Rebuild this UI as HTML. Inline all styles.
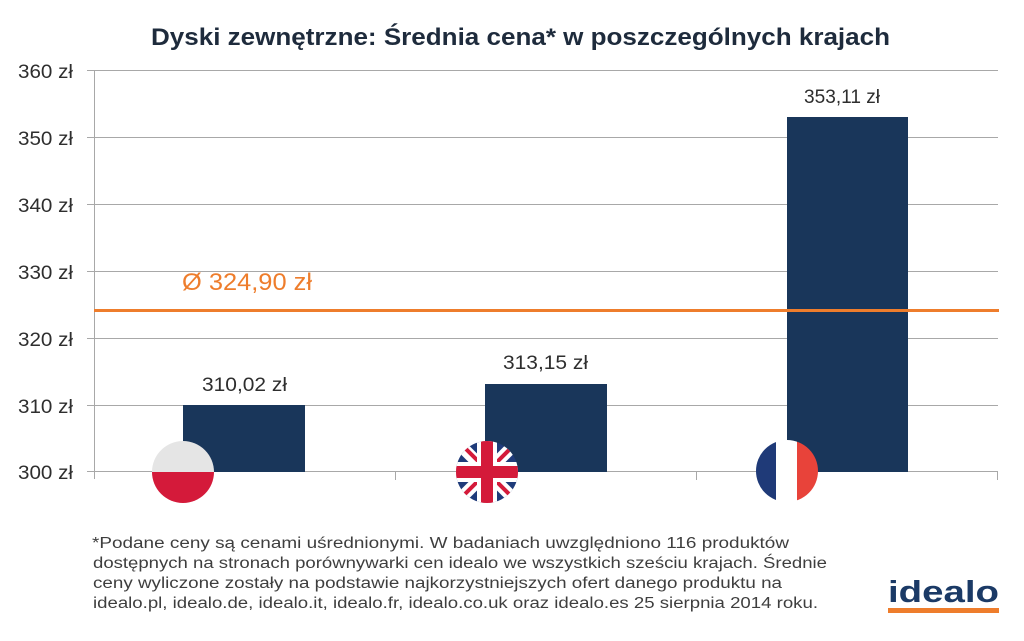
<!DOCTYPE html>
<html><head><meta charset="utf-8">
<style>
html,body{margin:0;padding:0;background:#fff;}
svg{display:block;}
text{font-family:"Liberation Sans",sans-serif;}
</style></head>
<body>
<svg width="1024" height="641" viewBox="0 0 1024 641" xmlns="http://www.w3.org/2000/svg">
<rect width="1024" height="641" fill="#fff"/>
<defs>
<clipPath id="cpl"><circle cx="183" cy="472" r="31"/></clipPath>
<clipPath id="cuk"><circle cx="487" cy="472" r="31"/></clipPath>
<clipPath id="cfr"><circle cx="787" cy="471" r="31"/></clipPath>
</defs>

<!-- title -->
<text x="151" y="45" font-size="24" font-weight="bold" fill="#1e2b3c" textLength="739" lengthAdjust="spacingAndGlyphs">Dyski zewnętrzne: Średnia cena* w poszczególnych krajach</text>

<!-- gridlines -->
<g stroke="#a8a8a8" stroke-width="1">
<line x1="87" y1="70.5" x2="998" y2="70.5"/>
<line x1="87" y1="137.5" x2="998" y2="137.5"/>
<line x1="87" y1="204.5" x2="998" y2="204.5"/>
<line x1="87" y1="271.5" x2="998" y2="271.5"/>
<line x1="87" y1="338.5" x2="998" y2="338.5"/>
<line x1="87" y1="405.5" x2="998" y2="405.5"/>
<line x1="87" y1="471.5" x2="998" y2="471.5"/>
<line x1="94.5" y1="70" x2="94.5" y2="479"/>
<line x1="395.5" y1="471" x2="395.5" y2="480"/>
<line x1="696.5" y1="471" x2="696.5" y2="480"/>
<line x1="997.5" y1="471" x2="997.5" y2="480"/>
</g>

<!-- y labels -->
<g font-size="19" fill="#2e2e2e">
<text x="18" y="78" textLength="55" lengthAdjust="spacingAndGlyphs">360 zł</text>
<text x="18" y="145" textLength="55" lengthAdjust="spacingAndGlyphs">350 zł</text>
<text x="18" y="212" textLength="55" lengthAdjust="spacingAndGlyphs">340 zł</text>
<text x="18" y="279" textLength="55" lengthAdjust="spacingAndGlyphs">330 zł</text>
<text x="18" y="346" textLength="55" lengthAdjust="spacingAndGlyphs">320 zł</text>
<text x="18" y="413" textLength="55" lengthAdjust="spacingAndGlyphs">310 zł</text>
<text x="18" y="479" textLength="55" lengthAdjust="spacingAndGlyphs">300 zł</text>
</g>

<!-- bars -->
<g fill="#19365a">
<rect x="183" y="405" width="122" height="67"/>
<rect x="485" y="384" width="122" height="88"/>
<rect x="787" y="117" width="121" height="355"/>
</g>

<!-- data labels -->
<g font-size="19" fill="#2e2e2e">
<text x="202" y="391" textLength="85" lengthAdjust="spacingAndGlyphs">310,02 zł</text>
<text x="503" y="369" textLength="85" lengthAdjust="spacingAndGlyphs">313,15 zł</text>
<text x="804" y="103" textLength="76" lengthAdjust="spacingAndGlyphs">353,11 zł</text>
</g>

<!-- average line -->
<line x1="94" y1="310.5" x2="999" y2="310.5" stroke="#ee7d2c" stroke-width="3"/>
<text x="182" y="290" font-size="24" fill="#ee7d2c" textLength="130" lengthAdjust="spacingAndGlyphs">Ø 324,90 zł</text>

<!-- Poland flag -->
<g clip-path="url(#cpl)">
<rect x="150" y="440" width="66" height="32" fill="#e5e5e5"/>
<rect x="150" y="472" width="66" height="33" fill="#d41a3a"/>
</g>

<!-- UK flag -->
<g clip-path="url(#cuk)">
<rect x="454" y="439" width="66" height="66" fill="#1f3b7a"/>
<line x1="454" y1="439" x2="520" y2="505" stroke="#fff" stroke-width="12"/>
<line x1="520" y1="439" x2="454" y2="505" stroke="#fff" stroke-width="12"/>
<line x1="454" y1="437" x2="487" y2="470" stroke="#d41a3a" stroke-width="4"/>
<line x1="489" y1="474" x2="522" y2="507" stroke="#d41a3a" stroke-width="4"/>
<line x1="522" y1="437" x2="489" y2="470" stroke="#d41a3a" stroke-width="4"/>
<line x1="485" y1="474" x2="452" y2="507" stroke="#d41a3a" stroke-width="4"/>
<rect x="477" y="439" width="20" height="66" fill="#fff"/>
<rect x="454" y="462" width="66" height="20" fill="#fff"/>
<rect x="481" y="439" width="12" height="66" fill="#d41a3a"/>
<rect x="454" y="466" width="66" height="12" fill="#d41a3a"/>
</g>

<!-- France flag -->
<g clip-path="url(#cfr)">
<rect x="755" y="439" width="21" height="64" fill="#1f3a78"/>
<rect x="776" y="439" width="21" height="64" fill="#ffffff"/>
<rect x="797" y="439" width="22" height="64" fill="#e8433a"/>
</g>

<!-- footnote -->
<g font-size="15.5" fill="#3e3e3e">
<text x="92" y="548" textLength="697" lengthAdjust="spacingAndGlyphs">*Podane ceny są cenami uśrednionymi. W badaniach uwzględniono 116 produktów</text>
<text x="93" y="568" textLength="734" lengthAdjust="spacingAndGlyphs">dostępnych na stronach porównywarki cen idealo we wszystkich sześciu krajach. Średnie</text>
<text x="93" y="588" textLength="689" lengthAdjust="spacingAndGlyphs">ceny wyliczone zostały na podstawie najkorzystniejszych ofert danego produktu na</text>
<text x="93" y="608" textLength="725" lengthAdjust="spacingAndGlyphs">idealo.pl, idealo.de, idealo.it, idealo.fr, idealo.co.uk oraz idealo.es 25 sierpnia 2014 roku.</text>
</g>

<!-- idealo logo -->
<text x="888" y="602" font-size="31" font-weight="bold" fill="#1b3a66" textLength="111" lengthAdjust="spacingAndGlyphs">idealo</text>
<rect x="888" y="608" width="111" height="5" fill="#ee7d2c"/>
</svg>
</body></html>
